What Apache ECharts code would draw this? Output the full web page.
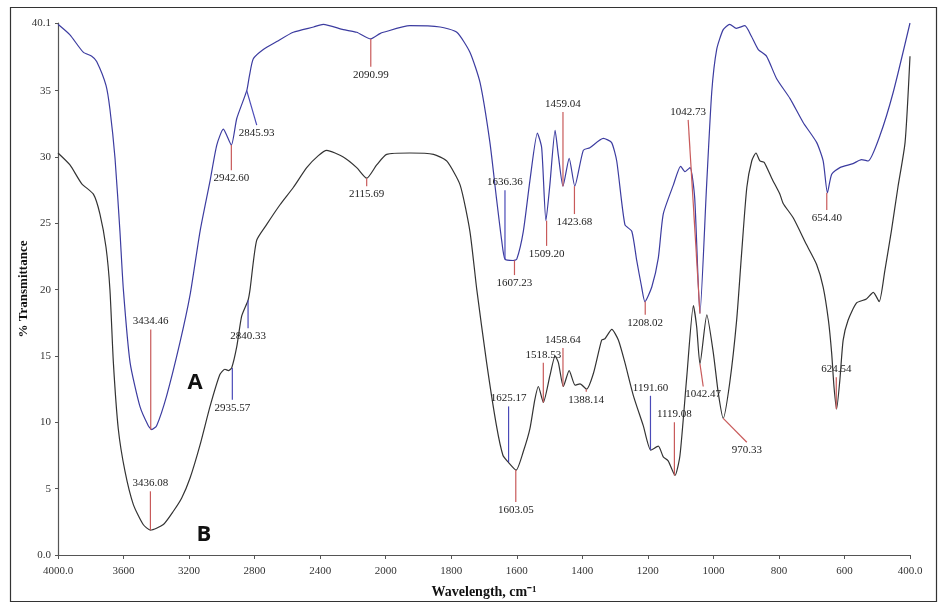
<!DOCTYPE html>
<html>
<head>
<meta charset="utf-8">
<script src="https://cdn.jsdelivr.net/npm/echarts@6.0.0/dist/echarts.min.js"></script>
<style>
html,body{margin:0;padding:0;background:#fff;}
#chart{width:938px;height:604px;}
</style>
</head>
<body>
<div id="chart"></div>
<script>
// ---- Data ----
const xTickLabels = ['4000.0','3600','3200','2800','2400','2000','1800','1600','1400','1200','1000','800','600','400.0'];
const yTickValues = [0, 5, 10, 15, 20, 25, 30, 35, 40.1];

const wnA = [4000,3927,3846,3794,3764,3707,3683,3652,3622,3601,3560,3500,3449,3428,3398,3337,3256,3194,3133,3072,3031,2991,2942,2909,2848,2832,2808,2747,2665,2564,2440,2381,2259,2177,2091,2035,2014,1926,1834,1783,1743,1712,1682,1662,1646,1636,1611,1600,1580,1560,1537,1524,1511,1499,1483,1473,1459,1440,1423,1397,1377,1336,1311,1295,1270,1249,1234,1219,1209,1188,1168,1153,1122,1100,1087,1071,1057,1041,1021,1005,990,970,950,930,904,884,863,838,807,766,726,685,665,652,639,614,574,548,528,492,451,400];
const tA  = [40.0,39.2,37.9,37.6,37.2,35.4,33.6,29.9,24.4,20.0,14.5,11.2,9.75,9.45,9.75,12.0,16.0,19.6,24.4,28.2,30.9,32.1,30.9,32.9,35.0,36.1,37.4,38.1,38.7,39.4,39.8,40.0,39.6,39.4,38.9,39.3,39.4,39.9,39.8,39.4,37.9,35.6,31.1,26.9,23.7,22.3,22.2,22.3,24.4,28.2,31.8,30.7,25.2,27.9,32.0,30.1,27.8,29.9,27.8,30.5,30.7,31.4,31.1,29.7,24.9,24.4,22.2,20.2,19.1,20.2,22.4,25.7,27.9,29.3,28.9,29.2,26.9,18.2,27.7,34.9,38.1,39.6,40.0,39.7,39.9,39.1,38.1,37.6,35.9,34.4,32.6,31.1,29.7,27.3,28.7,29.2,29.5,29.8,29.7,31.6,34.9,40.1];

const wnB = [4000,3927,3856,3784,3744,3707,3683,3662,3632,3591,3540,3480,3436,3357,3296,3245,3194,3133,3072,3012,2981,2960,2940,2909,2879,2840,2828,2788,2727,2645,2564,2482,2411,2360,2259,2177,2116,2055,1997,1926,1854,1814,1773,1743,1722,1692,1662,1642,1626,1602,1580,1560,1545,1534,1519,1499,1483,1473,1458,1440,1422,1407,1387,1366,1341,1331,1310,1290,1270,1244,1214,1191,1168,1153,1138,1117,1102,1081,1061,1051,1041,1020,1000,985,970,950,929,914,898,883,870,858,845,822,797,787,756,716,685,665,649,639,632,624,614,604,589,563,533,512,494,477,457,437,415,400];
const tB  = [30.3,29.4,28.0,27.2,25.7,23.2,20.0,14.5,9.5,6.3,3.8,2.3,1.87,2.3,3.3,4.3,5.8,8.3,11.2,13.6,14.0,13.9,14.1,15.7,18.0,19.2,20.0,23.7,24.9,26.4,27.7,29.2,30.1,30.5,30.0,29.2,28.4,29.4,30.2,30.3,30.2,29.7,27.9,24.4,20.0,14.5,9.75,7.5,7.0,6.4,7.8,9.5,11.7,12.7,11.5,13.5,15.0,14.5,12.7,13.9,12.8,12.9,12.5,13.7,16.2,16.3,17.0,16.2,14.5,12.0,9.75,7.9,8.2,7.4,7.1,6.0,7.5,13.5,18.8,17.2,14.4,18.1,15.2,12.2,10.3,13.0,17.7,22.7,27.7,29.7,30.3,29.7,29.6,28.4,27.2,26.5,25.4,23.4,21.9,20.2,17.7,15.2,12.7,11.0,13.2,16.2,17.7,19.0,19.3,19.8,19.1,21.4,24.4,27.7,31.1,37.6];

// Peak annotations: label, line from (w1,t1) to (w2,t2), label side, line colour kind
const peakLabels = ['2090.99','2115.69','2942.60','2845.93','3434.46','3436.08','2935.57','2840.33','1636.36','1607.23','1509.20','1459.04','1423.68','1208.02','1042.73','1625.17','1603.05','1518.53','1458.64','1388.14','1191.60','1119.08','1042.47','970.33','624.54','654.40'];
const peakW1 = [2091,2116,2942,2848,3434,3436,2936,2840,1636,1607,1509,1459,1424,1208,1041,1625,1603,1519,1459,1388,1192,1119,1041,970,625,654];
const peakT1 = [38.9,28.4,30.9,35.0,9.45,1.87,14.1,19.2,22.3,22.2,25.2,27.8,27.8,19.1,18.2,7.0,6.4,11.5,12.7,12.5,7.9,6.0,14.4,10.3,11.0,27.3];
const peakW2 = [2091,2116,2942,2787,3434,3436,2936,2840,1636,1607,1509,1459,1424,1208,1077,1625,1603,1519,1459,1388,1192,1119,1031,898,625,654];
const peakT2 = [36.8,27.8,29.0,32.4,17.0,4.8,11.7,17.1,27.5,21.1,23.3,33.4,25.7,18.1,32.8,11.2,4.0,14.5,15.6,12.3,12.0,10.0,12.7,8.5,13.4,26.0];
const peakSide = ['b','b','b','b','a','a','b','b','a','b','b','a','b','b','a','a','b','a','a','b','a','a','b','b','a','b'];
const peakBlue = [0,0,0,1,0,0,1,1,1,0,0,0,0,0,0,1,0,0,0,0,1,0,0,0,0,0];

// ---- Axis transform (FTIR scale change at 2000 cm-1) ----
function xf(w){ return w >= 2000 ? (4000 - w) / 400 : 5 + (2000 - w) / 200; }

const seriesA = wnA.map((w,i)=>[xf(w), tA[i]]);
const seriesB = wnB.map((w,i)=>[xf(w), tB[i]]);
const marks = peakLabels.map((l,i)=>[xf(peakW1[i]), peakT1[i], xf(peakW2[i]), peakT2[i], i]);

const chart = echarts.init(document.getElementById('chart'), null, {renderer:'canvas'});
const tickFont = 'Liberation Serif';
chart.setOption({
  animation:false,
  backgroundColor:'#fff',
  grid:{left:58, right:28, top:23, bottom:43, containLabel:false},
  xAxis:{
    type:'value', min:0, max:13, interval:1,
    name:'Wavelength, cm⁻¹', nameLocation:'middle', nameGap:30,
    nameTextStyle:{fontFamily:'Liberation Serif', fontWeight:'bold', fontSize:14, color:'#111'},
    axisLine:{show:true, lineStyle:{color:'#555', width:1.2}},
    axisTick:{show:true, length:4, lineStyle:{color:'#555'}},
    axisLabel:{fontFamily:tickFont, fontSize:11, color:'#333', margin:11,
      formatter:(v)=> xTickLabels[Math.round(v)] || ''},
    splitLine:{show:false}
  },
  yAxis:{
    type:'value', min:0, max:40.1,
    name:'% Transmittance', nameLocation:'middle', nameGap:28, nameRotate:90, nameMoveOverlap:false,
    nameTextStyle:{fontFamily:'Liberation Serif', fontWeight:'bold', fontSize:13, color:'#111'},
    axisLine:{show:true, lineStyle:{color:'#555', width:1.2}},
    axisTick:{show:true, length:3, customValues:yTickValues, lineStyle:{color:'#555'}},
    axisLabel:{fontFamily:tickFont, fontSize:11, color:'#333', margin:7, customValues:yTickValues,
      formatter:(v)=> v===0 ? '0.0' : String(v)},
    splitLine:{show:false}
  },
  graphic:[
    {type:'rect', shape:{x:10.5, y:7.5, width:926, height:594}, style:{fill:null, stroke:'#333', lineWidth:1.2}, silent:true, z:-1},
    {type:'text', x:195, y:383, style:{text:'A', fontFamily:'Open Sans', fontWeight:'bold', fontSize:22, fill:'#111', align:'center', verticalAlign:'middle'}},
    {type:'text', x:204, y:535, style:{text:'B', fontFamily:'Open Sans', fontWeight:'bold', fontSize:22, fill:'#111', align:'center', verticalAlign:'middle'}}
  ],
  series:[
    {type:'line', name:'A', data:seriesA, showSymbol:false, symbol:'none', smooth:0.2,
      lineStyle:{color:'#3c3ca0', width:1.2}, z:2},
    {type:'line', name:'B', data:seriesB, showSymbol:false, symbol:'none', smooth:0.2,
      lineStyle:{color:'#333', width:1.2}, z:2},
    {type:'custom', name:'peaks', data:marks, clip:false, z:3,
      encode:{x:[0,2], y:[1,3]},
      renderItem:function(params, api){
        const i = api.value(4);
        const p1 = api.coord([api.value(0), api.value(1)]);
        const p2 = api.coord([api.value(2), api.value(3)]);
        const off = peakSide[i]==='a' ? -8 : 8;
        return {type:'group', children:[
          {type:'line', shape:{x1:p1[0], y1:p1[1], x2:p2[0], y2:p2[1]},
            style:{stroke: peakBlue[i] ? '#4a4ab8' : '#c85a5a', lineWidth:1.2}},
          {type:'text', x:p2[0], y:p2[1]+off,
            style:{text:peakLabels[i], fontFamily:tickFont, fontSize:11, fill:'#222', align:'center', verticalAlign:'middle'}}
        ]};
      }
    }
  ]
});
</script>
</body>
</html>
